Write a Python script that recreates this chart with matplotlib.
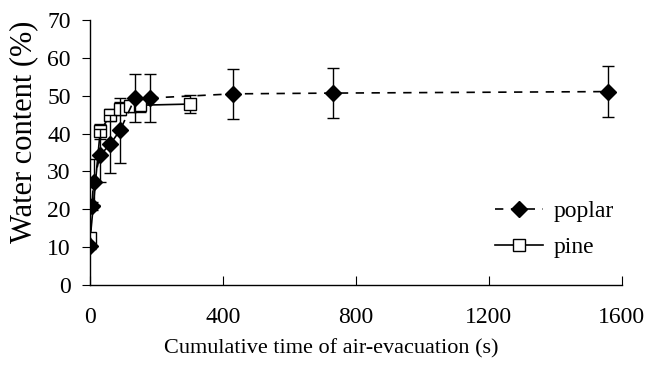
import matplotlib.pyplot as plt

plt.rcParams['font.family'] = ['Liberation Serif', 'DejaVu Serif']

# poplar
poplar_t = [0, 5, 10, 30, 60, 90, 135, 180, 430, 730, 1560]
poplar_wc = [10.3, 20.8, 27.2, 34.3, 37.2, 40.9, 49.4, 49.4, 50.5, 50.7, 51.1]
poplar_err = [0.8, 1.0, 6.0, 7.0, 7.7, 8.6, 6.3, 6.4, 6.6, 6.6, 6.7]

# pine
pine_t = [0, 30, 60, 90, 120, 150, 300]
pine_wc = [12.3, 40.6, 44.9, 46.6, 47.3, 47.5, 47.8]
pine_err = [1.0, 2.0, 1.5, 1.8, 1.6, 1.8, 2.3]

fig = plt.figure(figsize=(6.49, 3.67), dpi=100)
ax = fig.add_axes([0.139, 0.2234, 0.819, 0.722])

ax.errorbar(pine_t, pine_wc, yerr=pine_err, fmt='none', ecolor='black',
            capsize=4, elinewidth=1.0, capthick=1.0, zorder=2)
pine_line, = ax.plot(pine_t, pine_wc, color='black', linestyle='-', lw=1.2,
                     marker='s', markersize=9, markerfacecolor='white',
                     markeredgecolor='black', markeredgewidth=1.0, zorder=2)
ax.errorbar(poplar_t, poplar_wc, yerr=poplar_err, fmt='none', ecolor='black',
            capsize=4, elinewidth=1.0, capthick=1.0, zorder=3)
poplar_line, = ax.plot(poplar_t, poplar_wc, color='black', linestyle=(0, (5, 4.5)),
                       lw=1.2, marker='D', markersize=8.5, markerfacecolor='black',
                       markeredgecolor='black', zorder=3)

ax.set_xlim(0, 1600)
ax.set_ylim(0, 70)
ax.set_xticks([0, 400, 800, 1200, 1600])
ax.set_yticks(range(0, 71, 10))
ax.spines['top'].set_visible(False)
ax.spines['right'].set_visible(False)
ax.spines['left'].set_linewidth(1.0)
ax.spines['bottom'].set_linewidth(1.0)
ax.tick_params(axis='x', direction='in', length=6.5, labelsize=17, pad=16)
ax.tick_params(axis='y', direction='out', length=6, labelsize=17, pad=8)

ax.set_xlabel('Cumulative time of air-evacuation (s)', fontsize=16)
ax.xaxis.set_label_coords(0.453, -0.205)
ax.set_ylabel('Water content (%)', fontsize=22)
ax.yaxis.label.set_va('center')
ax.yaxis.set_label_coords(-0.126, 0.577)

ax.legend([poplar_line, pine_line], ['poplar', 'pine'], loc='center left',
          bbox_to_anchor=(0.74, 0.21), frameon=False, fontsize=17,
          handlelength=2.0, handletextpad=0.45, labelspacing=0.6,
          borderpad=0.0)

fig.savefig('out.png', dpi=100)
